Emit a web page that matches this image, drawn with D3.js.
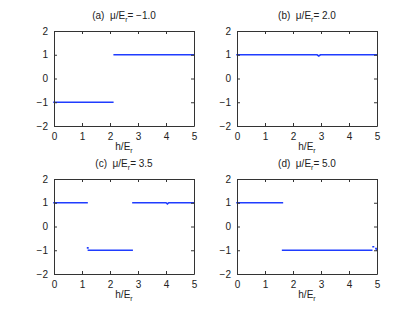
<!DOCTYPE html>
<html>
<head>
<meta charset="utf-8">
<script src="https://cdn.jsdelivr.net/npm/d3@7"></script>
<style>
  body { margin: 0; background: #fff; }
  text { font-family: "Liberation Sans", Arial, sans-serif; fill: #222; }
</style>
</head>
<body>
<script>
const width = 415;
const height = 312;

// panel labels and mu values
const panelLetters = ["(a)", "(b)", "(c)", "(d)"];
const muValues = ["\u22121.0", "2.0", "3.5", "5.0"];

// h/E_r values (NaN in y = gap in the line)
const hA = [0, 2.1, 2.12, 2.15, 5];
const yA = [-1, -1, NaN, 1, 1];

const hB = [0, 2.86, 2.92, 2.98, 5];
const yB = [1, 1, 0.95, 1, 1];

const hC = [0, 1.18, 1.19, 1.2, 1.21, 1.22, 1.23, 2.79, 2.8, 2.82, 4.0, 4.05, 4.1, 5];
const yC = [1, 1, NaN, -0.9, -0.9, NaN, -1, -1, NaN, 1, 1, 0.95, 1, 1];

const hD = [0, 1.62, 1.63, 1.63, 4.81, 4.82, 4.86, 4.875, 4.89, 4.96, 4.97, 4.98, 5];
const yD = [1, 1, NaN, -1, -1, NaN, -0.85, -0.85, NaN, -0.93, -0.93, NaN, -1];

const xTicks = [0, 1, 2, 3, 4, 5];
const yTicks = [-2, -1, 0, 1, 2];

const series = [[hA, yA], [hB, yB], [hC, yC], [hD, yD]];

const pos = [
  { x: 54, y: 31 }, { x: 237, y: 31 },
  { x: 54, y: 179 }, { x: 237, y: 179 }
];
const pw = 140, ph = 95;

const svg = d3.select('body').append('svg')
  .attr('width', width).attr('height', height);

series.forEach((s, i) => {
  const p = pos[i];
  const g = svg.append('g').attr('transform', `translate(${p.x},${p.y})`);

  const xScale = d3.scaleLinear().domain([0, 5]).range([0, pw]);
  const yScale = d3.scaleLinear().domain([-2, 2]).range([ph, 0]);

  const data = s[0].map((h, j) => ({ h: h, v: s[1][j] }));

  const lineGen = d3.line()
    .defined(d => !isNaN(d.v))
    .x(d => xScale(d.h))
    .y(d => yScale(d.v));

  g.append('path')
    .attr('d', lineGen(data))
    .attr('fill', 'none')
    .attr('stroke', '#1f3cff')
    .attr('stroke-width', 1.6)
    .attr('stroke-linecap', 'square');

  // axes, matlab style ticks inside
  const ax = (gen, tr) => g.append('g').attr('transform', tr).call(gen);
  const tickStyle = sel => {
    sel.select('.domain').attr('stroke', '#333');
    sel.selectAll('.tick line').attr('stroke', '#333');
    sel.selectAll('text').attr('font-size', 10).attr('fill', '#222')
      .attr('font-family', '"Liberation Sans", Arial, sans-serif');
  };
  const fmt = d => d < 0 ? '\u2212' + Math.abs(d) : '' + d;

  ax(d3.axisBottom(xScale).tickValues(xTicks).tickFormat(fmt).tickSizeInner(-3).tickSizeOuter(0).tickPadding(7), `translate(0,${ph})`)
    .call(tickStyle);
  ax(d3.axisTop(xScale).tickValues(xTicks).tickFormat('').tickSizeInner(-3).tickSizeOuter(0), 'translate(0,0)')
    .call(tickStyle);
  ax(d3.axisLeft(yScale).tickValues(yTicks).tickFormat(fmt).tickSizeInner(-3).tickSizeOuter(0).tickPadding(6), 'translate(0,0)')
    .call(tickStyle);
  ax(d3.axisRight(yScale).tickValues(yTicks).tickFormat('').tickSizeInner(-3).tickSizeOuter(0), `translate(${pw},0)`)
    .call(tickStyle);

  // title
  const t = g.append('text')
    .attr('x', pw / 2).attr('y', -12)
    .attr('text-anchor', 'middle')
    .attr('font-size', 10);
  t.append('tspan').text(panelLetters[i] + '\u00a0 \u03bc/E');
  t.append('tspan').attr('font-size', 7).attr('dy', 3).text('r');
  t.append('tspan').attr('dy', -3).text('= ' + muValues[i]);

  // x label
  const xl = g.append('text')
    .attr('x', pw / 2).attr('y', ph + 24)
    .attr('text-anchor', 'middle')
    .attr('font-size', 10);
  xl.append('tspan').text('h/E');
  xl.append('tspan').attr('font-size', 7).attr('dy', 3).text('r');
});
</script>
</body>
</html>
